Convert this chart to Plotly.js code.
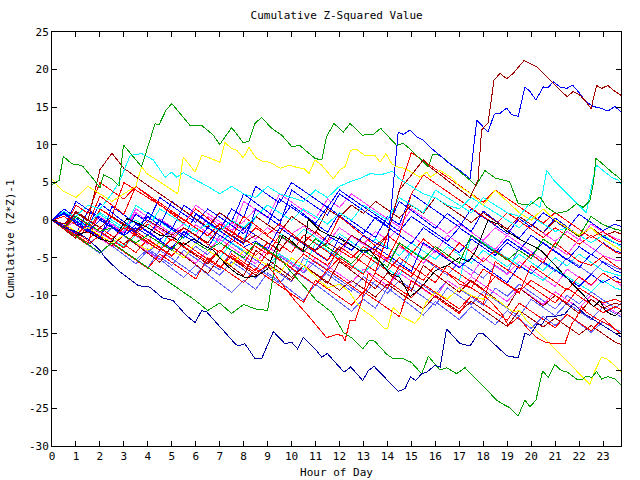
<!DOCTYPE html>
<html><head><meta charset="utf-8">
<script src="https://cdn.plot.ly/plotly-3.0.1.min.js"></script>
<style>html,body{margin:0;padding:0;background:#fff}#chart{width:640px;height:480px}#chart path.js-line{shape-rendering:crispEdges}</style>
</head><body><div id="chart"></div>
<script>
// ---- time grid for the bundle series (hours of day, half-hour samples) ----
const HALF_HOURS = [0,0.5,1,1.5,2,2.5,3,3.5,4,4.5,5,5.5,6,6.5,7,7.5,8,8.5,9,9.5,10,10.5,11,11.5,12,12.5,13,13.5,14,14.5,15,15.5,16,16.5,17,17.5,18,18.5,19,19.5,20,20.5,21,21.5,22,22.5,23,23.5,24];
const X_TICKS = [0,1,2,3,4,5,6,7,8,9,10,11,12,13,14,15,16,17,18,19,20,21,22,23];
const Y_TICKS = [-30,-25,-20,-15,-10,-5,0,5,10,15,20,25];

// ---- bundle series (half-hour values) ----
const b01_red = [0,-1.2,0.5,-0.6,3.2,2.0,0.8,4.5,3.3,2.0,0.8,-0.4,1.5,0.2,-1.0,-2.2,0.5,-0.7,-1.9,-0.5,-1.8,-3.0,-1.5,-2.8,0.5,-0.8,-2.1,-3.4,-2.0,-3.3,-4.5,-2.5,-3.8,-5.0,-3.0,-4.3,-5.5,-4.0,-5.2,-6.4,-4.5,-5.7,-3.0,-4.2,-5.5,-6.0,-4.8,-6.0,-7.0];
const b02_blue = [0,1.5,0.3,-0.9,2.2,1.0,-0.2,-1.4,0.5,-0.7,2.5,1.3,0.1,-1.1,1.0,-0.2,3.5,2.3,1.1,-0.1,2.0,0.8,-0.4,1.8,0.6,-0.6,-1.8,0.4,-0.8,2.5,1.3,0.1,-1.1,0.9,-0.3,-1.5,1.2,0.0,-1.2,-2.4,-0.5,-1.7,0.3,-0.9,-2.1,-1.0,-2.2,-3.0,-3.6];
const b03_magenta = [0,-0.8,-1.9,-0.5,-1.6,-2.7,-1.0,-2.1,-3.2,0.2,-0.9,-2.0,-0.6,-1.7,-2.8,-0.3,-1.4,-2.5,-1.0,-2.1,-3.2,-4.3,-2.5,-3.6,-4.7,-2.0,-3.1,-4.2,-5.3,-3.5,-4.6,-5.7,-4.0,-5.1,-6.2,-7.3,-5.0,-6.1,-7.2,-5.5,-6.6,-7.7,-8.8,-6.5,-7.6,-8.7,-7.0,-8.1,-9.2];
const b04_slate = [0,-1.0,-2.1,-3.2,-2.0,-3.1,-4.2,-5.3,-3.8,-4.9,-6.0,-4.0,-5.1,-6.2,-7.3,-5.5,-6.6,-7.7,-6.0,-7.1,-8.2,-5.0,-6.1,-7.2,-8.3,-9.4,-7.5,-8.6,-9.7,-8.0,-9.1,-10.2,-11.3,-9.0,-10.1,-11.2,-9.5,-10.6,-11.7,-12.8,-10.5,-11.6,-12.7,-11.0,-12.1,-13.2,-11.5,-12.4,-13.3];
const b05_red = [0,-1.1,-2.2,-0.4,-1.5,-2.6,-3.7,-1.5,-2.6,-3.7,-4.8,-3.0,-4.1,-5.2,-6.3,-4.5,-5.6,-6.7,-4.2,-5.3,-6.4,-7.5,-8.6,-6.5,-7.6,-8.7,-9.8,-7.0,-8.1,-9.2,-10.3,-8.5,-9.6,-10.7,-11.8,-10.0,-11.1,-12.2,-13.3,-11.0,-12.1,-13.2,-14.3,-12.5,-13.6,-14.7,-13.0,-14.5,-15.6];
const b06_blue = [0,0.8,-0.3,-1.4,-2.5,1.8,0.7,-0.4,-1.5,-2.6,-1.2,-2.3,0.8,-0.3,-1.4,-2.5,-3.6,-2.8,-3.9,-1.0,-2.1,-3.2,-4.3,-5.4,-2.2,-3.3,-4.4,-3.5,-4.6,-5.7,-6.8,-3.0,-4.1,-5.2,-6.3,-5.0,-6.1,-7.2,-8.3,-6.0,-7.1,-5.5,-6.6,-7.7,-8.8,-7.2,-8.3,-7.5,-8.4];
const b07_darkred = [0,-0.9,1.2,0.1,-1.0,-2.1,-3.2,-1.8,-2.9,-4.0,-2.5,-3.6,-4.7,-5.8,-4.0,-5.1,-6.2,-7.3,-5.8,-6.9,-8.0,-6.0,-7.1,-8.2,-9.3,-8.0,-9.1,-10.2,-8.5,-9.6,-10.7,-11.8,-10.0,-11.1,-12.2,-10.8,-11.9,-13.0,-14.1,-12.0,-13.1,-14.2,-13.0,-14.1,-15.2,-14.0,-15.1,-16.2,-16.8];
const b08_magenta = [0,1.0,-0.1,-1.2,0.5,-0.6,-1.7,1.5,0.4,-0.7,-1.8,-0.5,2.0,0.9,-0.2,-1.3,-0.2,1.5,0.4,-0.7,-1.8,-0.8,-1.9,-3.0,-1.0,-2.1,-3.2,-1.5,-2.6,-1.0,-2.1,-3.2,-4.3,-2.0,-3.1,-4.2,-2.8,-3.9,-2.0,-3.1,-4.2,-5.3,-3.5,-4.6,-2.5,-3.6,-4.7,-5.3,-5.5];
const b09_red = [0,-1.0,-2.0,-3.0,1.5,0.5,5.0,4.0,3.0,2.0,1.0,0.0,-1.0,-2.0,-0.5,-1.5,-2.5,-3.5,-4.5,-2.0,-3.0,-4.0,-5.0,-6.0,-4.0,-5.0,-3.5,-4.5,-5.5,-6.5,-7.5,-5.0,-6.0,-7.0,-8.0,-9.0,-6.5,-7.5,-8.5,-9.5,-8.0,-9.0,-10.0,-11.0,-9.0,-10.0,-11.0,-10.5,-11.2];
const b10_slate = [0,-1.1,-2.2,-3.3,-4.4,-3.0,-4.1,-5.2,-6.3,-4.0,-5.1,-6.2,-7.3,-5.5,-6.6,-4.0,-5.1,-6.2,-7.3,-8.4,-6.5,-7.6,-8.7,-6.8,-7.9,-9.0,-10.1,-8.0,-9.1,-6.5,-7.6,-8.7,-9.8,-8.0,-9.1,-10.2,-11.3,-9.0,-10.1,-8.5,-9.6,-10.7,-11.8,-10.0,-11.1,-9.5,-10.6,-11.7,-10.5];
const b11_blue = [0,-1.0,2.5,1.4,0.3,-0.8,-1.9,0.8,-0.3,3.0,1.9,0.8,-0.3,1.5,0.4,-0.7,-1.8,0.5,-0.6,2.8,1.7,0.6,-0.5,-1.6,1.0,-0.1,-1.2,-2.3,0.5,-0.6,3.5,2.4,1.3,0.2,-0.9,1.5,0.4,-0.7,-1.8,0.2,-0.9,1.0,-0.1,-1.2,0.8,-0.3,-1.4,-0.5,-1.2];
const b12_red = [0,-0.5,-1.6,-2.7,-1.0,-2.1,-3.2,-4.3,-2.5,-3.6,-4.7,-3.0,-4.1,-5.2,-6.3,-4.8,-5.9,-3.0,-4.1,-5.2,-6.3,-4.5,-5.6,-6.7,-5.0,-6.1,-7.2,-4.0,-5.1,-2.0,3.5,6.0,4.9,3.8,2.7,1.6,0.5,-0.6,1.0,-0.1,-1.2,-2.3,-1.0,-2.1,-3.2,-2.0,-3.1,-4.2,-4.8];
const b13_magenta = [0,-1.0,-0.2,-1.3,-2.4,-3.5,-2.0,-3.1,-4.2,-5.3,-3.5,-4.6,-5.7,-4.0,-2.5,-3.6,-4.7,-5.8,-3.5,-4.6,-5.7,-6.8,-5.0,-6.1,-7.2,-8.3,-6.5,-7.6,-8.7,-7.0,-8.1,-9.2,-10.3,-8.0,-9.1,-7.5,-8.6,-9.7,-10.8,-9.0,-10.1,-11.2,-9.5,-10.6,-11.7,-10.0,-11.1,-12.2,-12.8];
const b14_blue = [0,1.0,-0.1,-1.2,-2.3,0.5,-0.6,-1.7,1.0,-0.1,-1.2,2.0,0.9,-0.2,-1.3,1.5,0.4,4.5,3.4,2.3,5.0,3.9,2.8,1.7,4.0,2.9,1.8,0.7,-0.4,-1.5,0.5,-0.6,-1.7,-2.8,-1.0,-2.1,-3.2,-4.3,-2.5,-3.6,-4.7,-3.0,-4.1,-5.2,-6.3,-4.5,-5.6,-6.7,-7.3];
const b15_slate = [0,-1.2,-2.4,-1.0,-2.2,-3.4,-4.6,-5.8,-4.0,-5.2,-6.4,-7.6,-6.0,-7.2,-8.4,-9.6,-8.0,-9.2,-7.0,-8.2,-9.4,-10.6,-8.5,-9.7,-10.9,-12.1,-10.5,-11.7,-9.0,-10.2,-11.4,-12.6,-10.8,-12.0,-13.2,-11.5,-12.7,-13.9,-12.0,-13.2,-14.4,-12.8,-14.0,-12.5,-13.7,-14.9,-13.5,-14.5,-15.0];
const b16_red = [0,-1.0,2.0,0.9,5.0,3.9,2.8,4.5,3.4,2.3,1.2,0.1,-1.0,-2.1,-0.5,-1.6,-2.7,-1.0,-2.1,-3.2,-4.3,-2.0,-3.1,-4.2,-5.3,-6.4,-4.5,-5.6,-6.7,-5.0,-6.1,-7.2,-8.3,-6.0,-7.1,-8.2,-9.3,-7.5,-8.6,-9.7,-6.0,-7.1,-8.2,-9.3,-7.5,-8.6,-7.0,-8.1,-8.5];
const b17_darkred = [0,-1.0,1.0,-0.1,6.7,8.9,6.9,5.7,4.6,3.5,2.4,1.3,0.2,-0.9,1.0,-0.1,-1.2,0.5,-0.6,-1.7,0.5,-0.6,-1.7,1.5,0.4,2.0,0.9,2.5,1.4,0.3,2.0,0.9,3.0,1.9,0.8,-0.3,1.0,-0.1,-1.2,0.5,-0.6,-1.7,0.0,-1.1,-2.2,-1.0,-2.1,-1.5,-2.2];
const b18_red = [0,0.5,-0.6,-1.7,1.5,0.4,-0.7,-1.8,-0.5,-1.6,-2.7,-1.0,-2.1,-3.2,-4.3,-2.5,-3.6,-4.7,-3.0,-4.1,-2.0,-3.1,-4.2,-5.3,-3.5,-4.6,-5.7,-6.8,-2.0,4.0,9.0,7.9,6.8,5.7,4.6,3.5,2.4,4.0,2.9,1.8,0.7,-0.4,1.0,-0.1,-1.2,-2.3,-1.5,-2.6,-3.2];
const b19_cyan = [0,1.2,0.1,-1.0,0.8,-0.3,-1.4,2.0,0.9,-0.2,-1.3,-2.4,-1.0,-2.1,-3.2,-1.5,-2.6,0.5,-0.6,-1.7,-2.8,-1.2,-2.3,-3.4,-1.8,-2.9,-4.0,-2.5,-3.6,-4.7,-3.0,-4.1,-5.2,-3.5,-4.6,-5.7,-4.0,-5.1,-6.2,-4.5,-5.6,-6.7,-5.0,-6.1,-4.5,-5.6,-6.7,-7.2,-7.6];
const b20_green = [0,-1.0,-2.1,-3.2,-4.3,-3.0,-4.1,-5.2,-6.3,-7.4,-8.5,-9.6,-10.7,-12.0,-11.0,-12.4,-11.2,-11.8,-12.0,-2.0,-3.1,-4.2,-2.5,-3.6,-4.7,-5.8,-4.0,-5.1,-6.2,-3.0,-4.1,-5.2,-3.5,-4.6,-5.7,-2.0,-3.1,-4.2,-5.3,-4.0,-5.1,-2.5,-3.6,-1.0,-2.1,0.5,-0.6,-1.2,-1.5];
const b21_blue = [0,-0.7,-1.8,1.2,0.1,-1.0,-2.1,-0.5,-1.6,-2.7,-3.8,-1.5,-2.6,-3.7,-1.0,-2.1,-3.2,1.5,0.4,-0.7,4.0,2.9,1.8,0.7,3.5,2.4,1.3,0.2,-0.9,-2.0,-3.1,-1.0,-2.1,-3.2,-4.3,-2.5,-3.6,-4.7,-3.0,-4.1,-2.0,-3.1,-4.2,-5.3,-3.5,-4.6,-3.0,-4.1,-4.5];
const b22_red = [0,-1.1,-2.2,-3.3,-2.0,-3.1,-4.2,-5.3,-6.4,-4.5,-5.6,-6.7,-7.8,-5.0,-6.1,-7.2,-8.3,-6.5,-7.6,-8.7,-9.8,-10.9,-8.0,-9.1,-10.2,-11.3,-9.5,-10.6,-11.7,-12.8,-8.0,-9.1,-10.2,-11.3,-12.4,-10.0,-11.1,-5.5,-6.6,-7.7,-8.8,-9.9,-11.0,-9.0,-10.1,-11.2,-12.3,-11.5,-12.2];
const b23_slate = [0,0.8,-0.3,-1.4,-2.5,-1.0,-2.1,-3.2,-4.3,-2.8,-3.9,-5.0,-3.5,-4.6,-2.0,-3.1,-4.2,-5.3,-6.4,-4.8,-5.9,-7.0,-5.5,-6.6,-3.5,-4.6,-5.7,-6.8,-5.0,-6.1,-4.0,-5.1,-6.2,-7.3,-5.5,-6.6,-7.7,-6.0,-7.1,-3.5,-4.6,-5.7,-6.8,-5.0,-6.1,-7.2,-5.5,-6.3,-6.8];
const b24_magenta = [0,-1.0,0.5,-0.6,-1.7,-0.5,-1.6,1.0,-0.1,-1.2,-2.3,-1.0,-2.1,0.5,-0.6,-1.7,2.5,1.4,0.3,3.5,2.4,1.3,0.2,2.8,1.7,3.5,2.4,1.3,0.2,-0.9,1.5,0.4,-0.7,-1.8,-0.5,-1.6,-2.7,-1.0,-2.1,0.5,-0.6,-1.7,-2.8,-1.5,-2.6,-0.5,-1.6,-2.4,-3.0];
const b25_darkred = [0,-1.2,-2.4,-1.0,-2.2,-3.4,-2.0,-3.2,-4.4,-5.6,-3.5,-4.7,-5.9,-7.1,-5.0,-6.2,-7.4,-4.0,-5.2,-6.4,-7.6,-6.0,-7.2,-8.4,-5.5,-6.7,-7.9,-9.1,-7.0,-8.2,-9.4,-6.0,-7.2,-8.4,-9.6,-8.0,-9.2,-10.4,-11.6,-9.0,-10.2,-11.4,-10.0,-11.2,-12.4,-10.5,-11.7,-11.0,-11.5];
const b26_cyan = [0,-1.0,-2.0,-0.5,-1.5,-2.5,-3.5,-2.0,-3.0,-4.0,-1.0,-2.0,-3.0,-4.0,-5.0,-3.0,-4.0,-5.0,-6.0,-4.5,-5.5,-6.5,-3.0,-4.0,-5.0,-6.0,-7.0,-5.5,-6.5,-7.5,-4.0,-5.0,-6.0,-7.0,-8.0,-2.0,-3.0,-4.0,-5.0,-6.0,-7.0,-8.0,-6.5,-7.5,-8.5,-9.5,-8.0,-9.0,-9.5];

// ---- series traced at their own sample times ----
const darkredTop_h = [0,0.5,1,1.5,2,2.5,3,3.5,4,4.5,5,5.5,6,6.5,7,7.5,8,8.5,9,9.5,10,10.5,11,11.5,12,12.5,13,13.5,14,14.5,15,15.5,15.8,16.2,16.6,17,17.45,17.78,17.93,18.2,18.45,18.7,18.98,19.25,19.7,19.95,20.23,20.5,20.78,21.06,21.35,21.5,21.76,22.04,22.3,22.5,22.73,22.94,23.2,23.5,23.75];
const darkredTop_v = [0,-0.5,1,0,-1,0.5,-0.5,-1.5,0,-1,-2,-1,-2,-3,-1,-2,-3,-2,-3,-4,-2,-3,-4,-3,-4,-2,-3,-4,-2,4,6,8,7,6,5,4,3,5.3,12,12.9,18.6,19.5,18.8,19.5,21.2,20.8,20.4,19.5,18.6,17.7,16.8,16.4,17.1,16.6,15.7,14.8,17.9,17.5,17.9,17.1,16.6];

const blueTop_h = [0,0.5,1,1.5,2,2.5,3,3.5,4,4.5,5,5.5,6,6.5,7,7.5,8,8.5,9,9.5,10,10.5,11,11.5,12,12.5,13,13.5,14,14.45,14.66,14.94,15.22,15.5,15.78,16.2,16.6,17.03,17.45,17.73,17.93,18.2,18.46,18.7,18.98,19.19,19.46,19.74,19.95,20.2,20.5,20.7,20.92,21.2,21.48,21.73,22.04,22.3,22.6,22.94,23.2,23.5,23.75];
const blueTop_v = [0,1,-0.5,-1.5,0,-1,-2,-1,-2,0,-1,-2,-3,-1,-2,-3,-1,-2,-3,-4,-2,-3,-4,-2,-3,-4,-2,-3,-3.8,11.7,11.4,11.96,11.1,10.6,9.7,8.6,7.5,6.6,5.5,13.3,12.6,11.7,14.1,14.2,14.9,14.0,13.8,17.7,17.1,15.95,17.7,17.6,18.4,17.7,17.5,17.95,16.8,15.7,15.1,14.85,14.5,15.1,14.4];

const navyLow_h = [0,0.5,1,1.5,2,2.2,2.77,3.6,4.09,4.6,5.06,5.62,5.97,6.25,6.46,7.15,7.64,7.78,8.05,8.47,8.75,9.24,9.72,10.0,10.25,10.49,10.98,11.26,11.49,12.19,12.47,12.97,13.2,13.44,13.97,14.45,14.73,14.97,15.18,15.43,15.64,15.98,16.2,16.47,17.03,17.45,17.8,17.97,18.98,19.46,19.74,19.95,20.23,20.44,20.65,20.99,21.4,21.76,22.25,22.75,23.25,23.75];
const navyLow_v = [0,-1,-1.5,-2.5,-4,-4.9,-6.7,-8.7,-8.9,-10.3,-10.7,-12.7,-13.6,-12.0,-12.2,-14.7,-16.4,-16.7,-16.4,-18.4,-18.4,-14.8,-16.4,-16.2,-17.1,-15.6,-17.1,-18.2,-17.7,-20.2,-19.5,-21.3,-20.0,-19.4,-21.1,-22.75,-22.4,-20.8,-21.3,-20.4,-20.2,-19.3,-19.5,-14.45,-16.4,-16.7,-15.0,-15.0,-18.0,-18.3,-15.0,-15.3,-13.9,-13.9,-12.8,-12.8,-12.5,-11.1,-12.5,-13.5,-14.5,-15.5];

const greenLow_h = [0,0.5,1,1.5,2,2.5,3,3.5,4,4.5,5,5.5,6,6.5,7,7.5,8,8.5,9,9.5,9.93,10.5,11.05,11.67,12.16,12.58,12.97,13.27,13.48,13.97,14.24,14.66,15.0,15.43,15.71,15.98,16.2,16.47,16.89,17.24,17.73,18.56,18.77,19.1,19.46,19.74,19.95,20.2,20.48,20.71,20.99,21.27,21.48,21.9,22.17,22.3,22.52,22.73,22.94,23.2,23.5,23.75];
const greenLow_v = [0,-1,0.5,-0.5,-1.5,-1,-2,-3,-2,-3,-4,-2,-3,-4,-3,-4,-5,-3,-4,-5,-6.7,-8.7,-10.7,-12.2,-14.9,-15.8,-17.1,-15.9,-16.1,-17.8,-18.4,-18.4,-18.9,-20.4,-18.1,-19.1,-19.9,-19.6,-20.4,-19.6,-21.2,-23.9,-24.35,-24.9,-26.0,-23.9,-24.8,-23.9,-20.0,-20.9,-19.2,-20.0,-20.1,-21.1,-21.1,-20.7,-20.9,-20.1,-21.1,-20.8,-21.1,-21.9];

const greenTop_h = [0,0.3,0.47,0.82,1.17,1.3,1.72,2.0,2.15,2.5,2.8,2.98,3.74,4.3,4.47,4.76,5.0,5.76,6.25,6.73,7.0,7.5,7.98,8.22,8.47,8.75,9.17,9.59,10.0,10.35,10.98,11.26,11.46,11.77,12.16,12.44,12.95,13.41,13.72,14.38,14.66,15.0,15.7,15.9,16.2,16.6,17.0,17.45,17.7,18.07,18.5,19.1,19.46,19.95,20.37,20.65,21.06,21.5,21.9,22.17,22.45,22.6,22.7,22.9,23.1,23.36,23.64,23.75];
const greenTop_v = [4.7,5.3,8.5,7.5,7.3,7.1,5.5,4.3,6.0,5.5,4.5,10,7.1,12.8,12.7,14.6,15.5,12.6,12.6,11.3,10.05,12.3,10.3,10.5,12.85,13.65,12.2,11.3,9.8,9.9,8.2,8.0,11.1,12.85,11.7,12.85,11.3,11.4,12.2,9.95,10.2,9.3,7.1,8.8,8.6,7.5,6.5,5.3,4.6,6.6,5.6,5.1,2.2,2.0,3.1,1.7,0.9,1.2,2.2,1.7,2.6,4.9,8.2,7.7,7.1,6.4,5.7,5.3];

const yellowTop_h = [0,0.25,0.5,1,1.5,2,2.5,3,3.5,3.74,3.95,4.3,4.75,5.25,5.48,5.97,6.25,6.46,7.01,7.22,7.5,7.71,7.98,8.22,8.54,8.82,9.1,9.52,9.93,10.28,10.5,10.73,10.98,11.26,11.74,12.02,12.23,12.46,12.72,13.06,13.48,13.69,13.94,14.18,14.38,14.7,15.0,15.36,15.64,15.78,16.2,16.7,17,17.5,18,18.5,19,19.5,20,20.5,21,21.5,22,22.5,23,23.75];
const yellowTop_v = [5.5,4.5,3.8,3.0,4.5,3.5,2.5,3.5,4.5,7.1,6.2,5.5,4.5,3.5,8.4,6.4,8.6,8.4,7.7,10.3,9.5,9.3,8.3,9.65,8.2,7.8,7.7,6.9,7.3,6.95,6.9,6.2,8.0,7.3,5.5,6.7,7.1,9.3,9.4,8.6,8.6,7.7,8.85,7.5,7.1,6.9,6.4,5.7,6.4,5.7,6.6,5.6,4.5,3.5,2,4,2.5,1,0,1.5,0,-1,-2,-1,-2.5,-4];

const yellowLow_h = [0,0.5,1,1.5,2,2.5,3,3.5,4,4.5,5,5.5,6,6.5,7,7.5,8,8.5,9,9.5,10,10.5,11,11.5,12,12.4,12.65,12.93,13.41,13.9,14.0,14.24,14.66,15.15,15.36,15.6,16,16.5,17,17.5,18,18.2,18.63,19.25,19.5,19.8,20.37,20.78,21.34,21.9,22.25,22.45,22.66,22.94,23.15,23.45,23.75];
const yellowLow_v = [0,-0.5,-1.5,-1,-2,-3,-2,-3,-4,-3,-4,-5,-3,-4,-5,-6,-4,-5,-6,-7,-5,-6,-7.5,-9,-8.5,-9.5,-10.7,-11.8,-12.9,-14.45,-14.45,-11.6,-12.9,-13.7,-12.9,-11,-9.5,-10.5,-9,-10,-10.5,-10.0,-10.7,-12.2,-12.0,-13.3,-15.1,-16.4,-18.2,-20.0,-21.1,-21.8,-20.0,-18.2,-18.4,-19.2,-20.2];

const cyanTop_h = [0,0.5,1,1.5,2,2.5,2.84,3.26,3.74,4.23,4.72,5.0,5.2,5.48,5.9,6.5,7,7.5,8,8.5,9,9.5,10,10.5,11,11.5,12,12.44,12.9,13.3,13.7,14.2,14.5,15,15.5,16,16.5,17,17.5,18,18.5,19,19.5,20,20.5,21,21.5,22,22.5,23,23.75];
const cyanTop_v = [0,1,0.5,2,1.5,3.5,5.3,8.6,8.85,8.0,5.7,6.4,5.7,6.3,5.5,4.5,3.5,4.5,3.5,3,4.5,3.5,3,2.5,4,3,4.5,5.1,5.6,6.2,6.0,6.5,5.5,4.5,3.5,3,2,1.5,3,2,1,0,-1,0.5,-0.5,-1.5,-1,-2,-3,-2,-3.5];

const cyanRight_h = [0,0.5,1,1.5,2,2.5,3,3.5,4,4.5,5,5.5,6,6.5,7,7.5,8,8.5,9,9.5,10,10.5,11,11.5,12,12.5,13,13.5,14,14.5,15,15.5,16,16.5,17,17.5,18,18.5,19,19.5,20,20.37,20.65,20.95,21.3,21.6,22.0,22.3,22.6,22.73,23.0,23.36,23.64,23.75];
const cyanRight_v = [0,-1,0.5,-0.5,1,0,-1,0,-1,1.5,0.5,-0.5,-1.5,-0.5,-1.5,0,-1,0.5,2,1,0,1.5,0.5,-0.5,1,0,2,1,0,3,2,1,4,3,2,1,3,2,1,0.5,2.5,1.7,6.6,5.3,4.2,3.2,2.0,1.0,5.7,7.3,6.6,5.7,5.3,4.9];

const redLow_h = [0,0.5,1,1.5,2,2.5,3,3.5,4,4.5,5,5.5,6,6.5,7,7.5,8,8.5,9,9.5,10.14,10.63,11.46,11.88,12.1,12.23,12.37,12.44,12.65,12.93,13.2,13.5,14,14.5,15,15.5,16,16.5,17,17.5,18,18.28,18.77,19.05,19.46,19.8,20.23,20.58,20.93,21.41,21.55,21.69,21.9,22.1,22.3,22.73,23.3,23.75];
const redLow_v = [0,-1,-2,-0.5,-1.5,-2.5,-1,-2,-3,-4,-2.5,-3.5,-4.5,-5.5,-4,-5,-6,-7,-6,-8,-10.7,-12.45,-15.6,-15.2,-15.3,-16.0,-14.2,-13.3,-13.4,-10.7,-7,-8,-9,-6,-7,-8,-6,-7,-8.5,-9,-10,-10.7,-12.45,-14.0,-12.9,-14.2,-15.6,-16.2,-16.4,-16.4,-15.1,-13.8,-12.9,-11.5,-12.2,-13.1,-14.0,-15.1];

const black_h = [0,0.5,1,1.5,2,2.49,3.12,3.5,3.95,4.5,5.06,5.48,5.9,6.3,6.73,7.29,7.71,8.05,8.5,9,9.3,9.65,10.0,10.49,10.7,11.19,11.6,12.02,12.45,12.85,13.27,13.69,14.1,14.52,14.94,15.36,15.78,16.0,16.5,17,17.4,17.7,18.2,18.6,19,19.5,20,20.4,20.8,21.2,21.7,22.2,22.6,22.87,23.1,23.3,23.5,23.75];
const black_v = [0,-1,-2,-1.5,-2.5,-2.9,0.2,-0.3,-0.9,-2.0,-2.25,-3.35,-2.5,-3.3,-4.0,-6.0,-7.1,-7.6,-7.5,-6.5,-4,-2.0,-2.8,-4.25,0.2,-1.4,-2,-2.5,-3.3,-4.0,-4.0,-5.6,-7.1,-7.6,-10.2,-9.1,-7.6,-6.7,-6,-5,-5.5,-4,0,-0.5,-1.5,-2.5,-3.3,-4,-5.3,-6.7,-8.4,-10,-11.5,-10.7,-12,-12.45,-12.7,-12];

// ---- colours ----
const C = {red:'#ff0000', green:'#00a000', blue:'#0000ff', navy:'#0000a0', magenta:'#ff40ff',
           cyan:'#00ffff', yellow:'#ffff00', black:'#000000', darkred:'#a00000', slate:'#6060ff'};

const bundle = [
  [b04_slate,C.slate],[b15_slate,C.slate],[b10_slate,C.slate],[b23_slate,C.slate],[b13_magenta,C.magenta],
  [b03_magenta,C.magenta],[b08_magenta,C.magenta],[b24_magenta,C.magenta],[b19_cyan,C.cyan],[b26_cyan,C.cyan],
  [b07_darkred,C.darkred],[b25_darkred,C.darkred],[b05_red,C.red],[b06_blue,C.blue],[b09_red,C.red],
  [b14_blue,C.blue],[b02_blue,C.blue],[b21_blue,C.blue],[b11_blue,C.blue],[b16_red,C.red],
  [b22_red,C.red],[b01_red,C.red],[b12_red,C.red],[b18_red,C.red],[b17_darkred,C.darkred],[b20_green,C.green]
];
const traced = [
  [cyanRight_h,cyanRight_v,C.cyan],[cyanTop_h,cyanTop_v,C.cyan],[yellowLow_h,yellowLow_v,C.yellow],
  [yellowTop_h,yellowTop_v,C.yellow],[black_h,black_v,C.black],[redLow_h,redLow_v,C.red],
  [greenLow_h,greenLow_v,C.green],[navyLow_h,navyLow_v,C.navy],[greenTop_h,greenTop_v,C.green],
  [blueTop_h,blueTop_v,C.blue],[darkredTop_h,darkredTop_v,C.darkred]
];

const traces = [];
bundle.forEach(([vals,col]) => traces.push({x:HALF_HOURS.slice(0,vals.length), y:vals, type:'scatter', mode:'lines',
  line:{color:col,width:1}, hoverinfo:'skip', showlegend:false}));
traced.forEach(([h,v,col]) => traces.push({x:h, y:v, type:'scatter', mode:'lines',
  line:{color:col,width:1}, hoverinfo:'skip', showlegend:false}));

const FONT = {family:'"DejaVu Sans Mono", monospace', size:11, color:'#000'};
const axisCommon = {showline:true, linecolor:'#000', linewidth:1, mirror:'ticks', ticks:'inside', ticklen:5,
  tickcolor:'#000', tickwidth:1, showgrid:false, zeroline:false, tickfont:FONT, fixedrange:true};

const layout = {
  width:640, height:480, margin:{l:52, r:19, t:32, b:34},
  paper_bgcolor:'#fff', plot_bgcolor:'#fff', showlegend:false, font:FONT,
  title:{text:'Cumulative Z-Squared Value', font:FONT, x:0.526, xanchor:'center', y:0.969, yanchor:'middle', yref:'container'},
  xaxis:Object.assign({}, axisCommon, {range:[0,23.75], tickmode:'array', tickvals:X_TICKS, ticktext:X_TICKS.map(String),
    title:{text:'Hour of Day', font:FONT, standoff:6}}),
  yaxis:Object.assign({}, axisCommon, {range:[-30,25], tickmode:'array', tickvals:Y_TICKS, ticktext:Y_TICKS.map(String),
    title:{text:'Cumulative (Z*Z)-1', font:FONT, standoff:12}})
};
Plotly.newPlot('chart', traces, layout, {staticPlot:true, displayModeBar:false});
</script></body></html>
